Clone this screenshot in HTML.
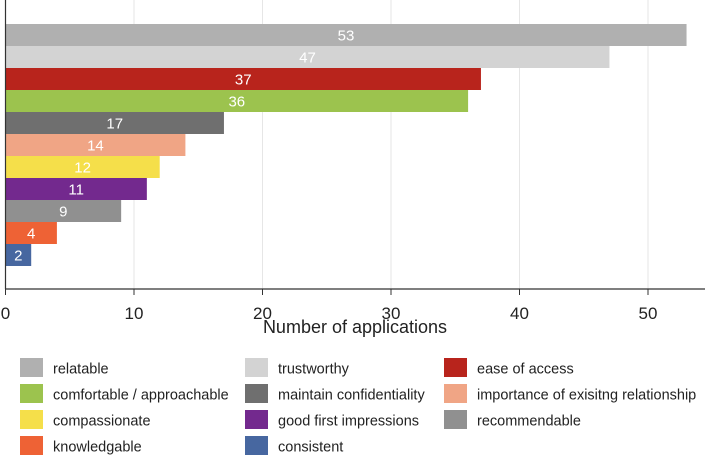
<!DOCTYPE html>
<html><head><meta charset="utf-8"><style>
body{margin:0;background:#fff;width:709px;height:459px;overflow:hidden;font-family:"Liberation Sans",sans-serif}
</style></head><body>
<svg id="chart" width="709" height="459" xmlns="http://www.w3.org/2000/svg"></svg>
<script>
const categories=["relatable","trustworthy","ease of access","comfortable / approachable","maintain confidentiality","importance of exisitng relationship","compassionate","good first impressions","recommendable","knowledgable","consistent"];
const values=[53,47,37,36,17,14,12,11,9,4,2];
const colors=["#b0b0b0","#d3d3d3","#b8241c","#9cc34e","#6f6f6f","#f0a585","#f5df4a","#73298e","#909090","#ee6235","#4767a0"];
const ticks=[0,10,20,30,40,50];
const NS="http://www.w3.org/2000/svg";
const svg=document.getElementById('chart');
const x0=5.5,scale=12.85,top0=24,bh=22,axisY=289;
const xs=v=>x0+v*scale;
function el(t,a,p){const e=document.createElementNS(NS,t);for(const k in a)e.setAttribute(k,a[k]);(p||svg).appendChild(e);return e;}
ticks.forEach(t=>{if(t>0){const g=el('line',{x1:xs(t),x2:xs(t),y1:0,y2:axisY,stroke:'#e6e6e6','stroke-width':1});

}
const tk=el('line',{x1:xs(t),x2:xs(t),y1:axisY,y2:295,stroke:'#333','stroke-width':1});


const tl=el('text',{x:xs(t),y:319,'text-anchor':'middle','font-size':17,fill:'#222'});tl.textContent=t;

});
values.forEach((v,i)=>{const y=top0+i*bh;
const r=el('rect',{x:x0,y:y,width:v*scale,height:bh,fill:colors[i]});


const t=el('text',{x:x0+v*scale/2,y:y+16.5,'text-anchor':'middle','font-size':15,fill:'#fff'});t.textContent=v;

});
const ax=el('line',{x1:x0,x2:705,y1:axisY,y2:axisY,stroke:'#333','stroke-width':1.2});


const ay=el('line',{x1:x0,x2:x0,y1:0,y2:axisY,stroke:'#333','stroke-width':1.2});


const tt=el('text',{x:355,y:333,'text-anchor':'middle','font-size':18,fill:'#222'});tt.textContent='Number of applications';


const legendOrder=[0,1,2,3,4,5,6,7,8,9,10];
const colX=[20,245,444],rowY=[358,384,410,436];
legendOrder.forEach((ci,k)=>{const c=k%3,r=Math.floor(k/3);
const g=el('g',{});


el('rect',{x:colX[c],y:rowY[r],width:23,height:19,fill:colors[ci]},g);
const t=el('text',{x:colX[c]+33,y:rowY[r]+15.5,'font-size':14.5,fill:'#222'},g);t.textContent=categories[ci];});
</script>
</body></html>
